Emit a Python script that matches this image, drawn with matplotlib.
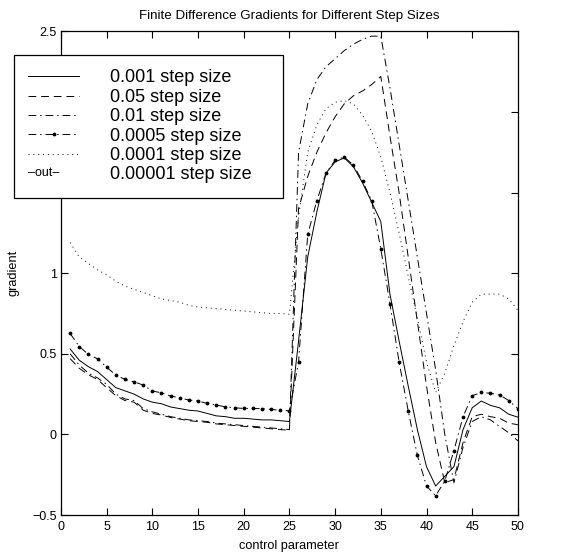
import matplotlib
matplotlib.use('Agg')
import matplotlib.pyplot as plt
from matplotlib.legend_handler import HandlerBase
from matplotlib.lines import Line2D
from matplotlib.text import Text
from matplotlib.ticker import FuncFormatter

plt.rcParams['font.family'] = ['Liberation Sans', 'DejaVu Sans']

# control parameter 1..50
x = list(range(1, 51))

# 0.001 step size (solid)
g_001 = [0.53, 0.46, 0.42, 0.39, 0.34, 0.29, 0.27, 0.25, 0.22, 0.20,
         0.19, 0.17, 0.16, 0.15, 0.145, 0.13, 0.115, 0.11, 0.10, 0.10,
         0.095, 0.09, 0.09, 0.085, 0.08, 0.58, 1.10, 1.38, 1.62, 1.69,
         1.715, 1.66, 1.56, 1.44, 1.32, 0.87, 0.58, 0.30, 0.03, -0.20,
         -0.32, -0.26, -0.20, 0.03, 0.165, 0.207, 0.18, 0.165, 0.125, 0.107]

# 0.05 step size (dashed)
g_05 = [0.47, 0.41, 0.37, 0.34, 0.29, 0.24, 0.21, 0.20, 0.15, 0.13,
        0.12, 0.105, 0.095, 0.085, 0.08, 0.075, 0.065, 0.06, 0.055, 0.05,
        0.045, 0.04, 0.035, 0.03, 0.025, 1.40, 1.60, 1.75, 1.87, 1.97,
        2.05, 2.10, 2.13, 2.17, 2.22, 1.85, 1.50, 1.10, 0.70, 0.30,
        -0.05, -0.30, -0.28, -0.05, 0.11, 0.125, 0.11, 0.10, 0.07, 0.06]

# 0.01 step size (dash-dot)
g_01 = [0.50, 0.43, 0.38, 0.35, 0.31, 0.25, 0.22, 0.21, 0.16, 0.14,
        0.125, 0.11, 0.10, 0.09, 0.085, 0.08, 0.07, 0.065, 0.06, 0.055,
        0.05, 0.045, 0.04, 0.035, 0.03, 1.75, 2.05, 2.20, 2.28, 2.33,
        2.38, 2.42, 2.45, 2.47, 2.47, 2.15, 1.80, 1.45, 1.10, 0.75,
        0.40, 0.00, -0.30, -0.08, 0.08, 0.11, 0.09, 0.05, 0.01, -0.04]

# 0.0005 step size (dash-dot with points)
g_0005 = [0.626, 0.545, 0.496, 0.469, 0.417, 0.368, 0.341, 0.326, 0.306, 0.269,
          0.258, 0.238, 0.227, 0.213, 0.207, 0.192, 0.182, 0.171, 0.165, 0.161,
          0.161, 0.159, 0.155, 0.149, 0.147, 0.45, 1.24, 1.45, 1.62, 1.70,
          1.72, 1.67, 1.57, 1.45, 1.15, 0.81, 0.45, 0.145, -0.13, -0.32,
          -0.38, -0.29, -0.10, 0.11, 0.24, 0.26, 0.255, 0.245, 0.21, 0.16]

# 0.0001 step size (dotted)
g_0001 = [1.19, 1.10, 1.06, 1.02, 0.99, 0.95, 0.92, 0.90, 0.88, 0.86,
          0.84, 0.83, 0.82, 0.80, 0.79, 0.785, 0.78, 0.775, 0.77, 0.765,
          0.76, 0.755, 0.75, 0.75, 0.745, 1.35, 1.75, 1.92, 2.02, 2.06,
          2.07, 2.05, 1.98, 1.88, 1.72, 1.50, 1.25, 0.98, 0.72, 0.45,
          0.26, 0.38, 0.55, 0.70, 0.82, 0.87, 0.87, 0.87, 0.84, 0.77]

labels = ['0.001 step size', '0.05 step size', '0.01 step size',
          '0.0005 step size', '0.0001 step size', '0.00001 step size']


class TextHandle(HandlerBase):
    # draws a short text in place of the line sample
    def create_artists(self, legend, orig_handle, xdescent, ydescent,
                       width, height, fontsize, trans):
        t = Text(-xdescent, -ydescent + height * 0.5, '\u2013out\u2013',
                 ha='left', va='center', fontsize=9,
                 transform=trans)
        return [t]


fig = plt.figure(figsize=(5.62, 5.56), dpi=100)
ax = fig.add_axes([0.1085, 0.0737, 0.813, 0.870])

lw = 0.7
l1, = ax.plot(x, g_001, '-', color='k', lw=lw)
l2, = ax.plot(x, g_05, color='k', lw=lw, linestyle=(0, (8, 5)))
l3, = ax.plot(x, g_01, color='k', lw=lw, linestyle=(0, (8, 4, 1.5, 4)))
l4, = ax.plot(x, g_0005, color='k', lw=lw, linestyle=(0, (8, 4, 1.5, 4)),
              marker='.', markersize=3.5)
l5, = ax.plot(x, g_0001, color='k', lw=lw, linestyle=(0, (1, 4)))
l6 = Line2D([], [], color='none')

ax.set_xlim(0, 50)
ax.set_ylim(-0.5, 2.5)
ax.set_xticks(range(0, 51, 5))
ax.set_yticks([-0.5, 0, 0.5, 1, 1.5, 2, 2.5])
ax.yaxis.set_major_formatter(FuncFormatter(lambda v, p: ('%g' % v).replace('-', '\u2212')))
ax.tick_params(direction='in', length=5, width=0.8, top=True, right=True,
               labelsize=9)
ax.tick_params(axis='x', pad=4)
ax.tick_params(axis='y', pad=3)
for s in ax.spines.values():
    s.set_linewidth(0.9)

ax.set_title('Finite Difference Gradients for Different Step Sizes', fontsize=9.6, pad=9)
ax.set_xlabel('control parameter', fontsize=9.2, labelpad=5)
ax.set_ylabel('gradient', fontsize=9.2, labelpad=9)

leg = ax.legend([l1, l2, l3, l4, l5, l6], labels,
                handler_map={l6: TextHandle()},
                loc='upper left', bbox_to_anchor=(0.025, 0.54, 0.479, 0.361),
                bbox_transform=fig.transFigure, mode='expand',
                fontsize=13, handlelength=2.8, handletextpad=1.7,
                labelspacing=0.13, borderpad=0.8, borderaxespad=0,
                fancybox=False, framealpha=1, edgecolor='k')
leg.get_frame().set_linewidth(0.9)

fig.savefig('out.png', dpi=100)
